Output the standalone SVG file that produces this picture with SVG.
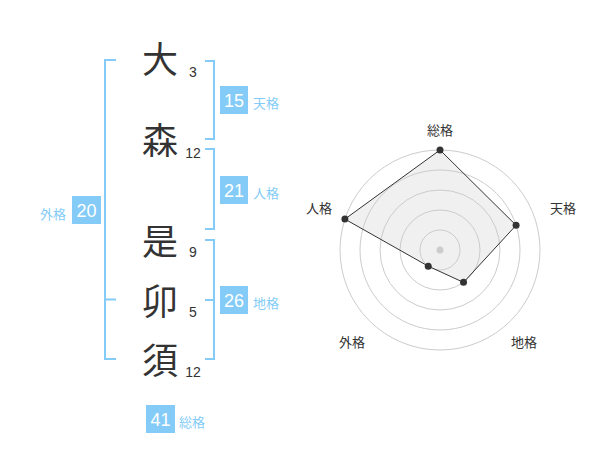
<svg xmlns="http://www.w3.org/2000/svg" width="600" height="470" viewBox="0 0 600 470">
<style>
.kanji{font-family:"Noto Sans CJK JP","Noto Sans CJK SC",sans-serif;font-size:36px;fill:#333;text-anchor:middle}
.num{font-family:"Liberation Sans",Arial,sans-serif;font-size:14px;fill:#333;text-anchor:middle}
.box{fill:#84ccf7}
.boxnum{font-family:"Liberation Sans",Arial,sans-serif;font-size:18px;fill:#fff;text-anchor:middle}
.lbl{font-family:"Noto Sans CJK JP","Noto Sans CJK SC",sans-serif;font-size:13px;fill:#84ccf7}
.br{fill:none;stroke:#84ccf7;stroke-width:2}
.ring{fill:none;stroke:#cccccc;stroke-width:1}
.axis{font-family:"Noto Sans CJK JP","Noto Sans CJK SC",sans-serif;font-size:13px;fill:#333;text-anchor:middle}
.pt{fill:#333}
</style>
<rect width="600" height="470" fill="#fff"/>
<g id="name">
<g id="c1"><text class="kanji" x="160" y="73">大</text><text class="num" x="193" y="77">3</text></g>
<g id="c2"><text class="kanji" x="160" y="154">森</text><text class="num" x="193" y="158">12</text></g>
<g id="c3"><text class="kanji" x="160" y="255">是</text><text class="num" x="193" y="257">9</text></g>
<g id="c4"><text class="kanji" x="160" y="315">卯</text><text class="num" x="193" y="317">5</text></g>
<g id="c5"><text class="kanji" x="160" y="374">須</text><text class="num" x="193" y="377">12</text></g>
</g>
<g id="brackets">
<path class="br" d="M116,60 H105 V359 H116 M105,299.5 H116"/>
<path class="br" d="M205,61 H214 V139 H205"/>
<path class="br" d="M205,149 H214 V229 H205"/>
<path class="br" d="M205,240 H214 V359 H205 M205,300 H214"/>
</g>
<g id="tenkaku"><rect class="box" x="220" y="86" width="28" height="28"/><text class="boxnum" x="234" y="107">15</text><text class="lbl" x="253" y="108">天格</text></g>
<g id="jinkaku"><rect class="box" x="220" y="176" width="28" height="28"/><text class="boxnum" x="234" y="197">21</text><text class="lbl" x="253" y="198">人格</text></g>
<g id="chikaku"><rect class="box" x="220" y="286" width="28" height="28"/><text class="boxnum" x="234" y="307">26</text><text class="lbl" x="253" y="308">地格</text></g>
<g id="gaikaku"><rect class="box" x="72" y="196" width="29" height="28"/><text class="boxnum" x="86.5" y="217">20</text><text class="lbl" x="40" y="219">外格</text></g>
<g id="soukaku"><rect class="box" x="146" y="405" width="29" height="28"/><text class="boxnum" x="160.5" y="426">41</text><text class="lbl" x="179" y="427">総格</text></g>
<g id="radar">
<polygon points="440,150 516.08,225.28 463.51,282.36 428.24,266.18 344.89,219.10" fill="#f0f0f0"/>
<circle class="ring" cx="440" cy="250" r="20"/>
<circle class="ring" cx="440" cy="250" r="40"/>
<circle class="ring" cx="440" cy="250" r="60"/>
<circle class="ring" cx="440" cy="250" r="80"/>
<circle class="ring" cx="440" cy="250" r="100"/>
<circle cx="440" cy="250" r="3.5" fill="#cccccc"/>
<polygon points="440,150 516.08,225.28 463.51,282.36 428.24,266.18 344.89,219.10" fill="none" stroke="#333" stroke-width="1"/>
<circle class="pt" cx="440" cy="150" r="3.5"/>
<circle class="pt" cx="516.08" cy="225.28" r="3.5"/>
<circle class="pt" cx="463.51" cy="282.36" r="3.5"/>
<circle class="pt" cx="428.24" cy="266.18" r="3.5"/>
<circle class="pt" cx="344.89" cy="219.10" r="3.5"/>
<text class="axis" x="440" y="135">総格</text>
<text class="axis" x="563" y="213">天格</text>
<text class="axis" x="319" y="213">人格</text>
<text class="axis" x="352" y="347">外格</text>
<text class="axis" x="524" y="347">地格</text>
</g>
</svg>
